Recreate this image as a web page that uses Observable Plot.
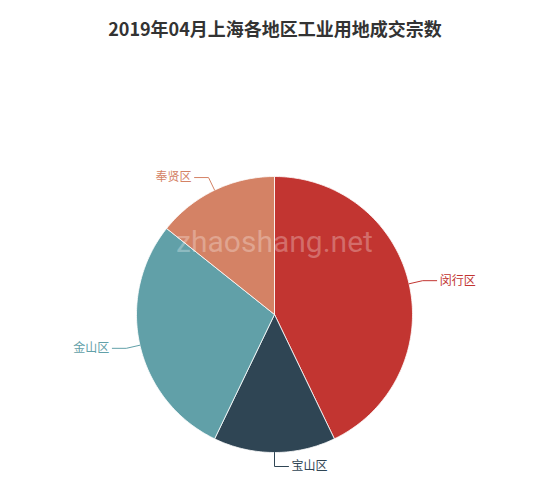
<!DOCTYPE html>
<html><head><meta charset="utf-8">
<script src="https://cdn.jsdelivr.net/npm/d3@7"></script>
<script src="https://cdn.jsdelivr.net/npm/@observablehq/plot@0.6"></script>
<style>
body{margin:0;background:#fff;font-family:"Noto Sans CJK SC","Noto Sans",sans-serif;}
#title{width:550px;height:56px;line-height:56px;text-align:center;font-size:18px;font-weight:bold;color:#333;}
#chart svg{display:block;}
</style></head><body>
<div id="title">2019年04月上海各地区工业用地成交宗数</div>
<div id="chart"></div>
<script>
const districts = ["闵行区","宝山区","金山区","奉贤区"];
const counts = [3, 1, 2, 1];
const colors = ["#c23531","#2f4554","#61a0a8","#d48265"];
const watermark = "zhaoshang.net";

const W = 550, H = 434, cx = 274, cy = 258, R = 138, L1 = 14, L2 = 14;
const arcs = d3.pie().sort(null).value(d => d.value)(districts.map((name, i) => ({name, value: counts[i]})));
const pt = (a, r) => ({x: r * Math.sin(a), y: -r * Math.cos(a)});

const slices = [];
const leaders = [];
const labels = [];
for (const p of arcs) {
  const name = p.data.name;
  const n = Math.max(2, Math.ceil((p.endAngle - p.startAngle) / (Math.PI / 180)));
  slices.push({name, x: 0, y: 0});
  for (let k = 0; k <= n; k++) {
    const a = p.startAngle + (p.endAngle - p.startAngle) * k / n;
    slices.push({name, ...pt(a, R)});
  }
  slices.push({name, x: 0, y: 0});
  const mid = (p.startAngle + p.endAngle) / 2;
  const dir = Math.sin(mid) < -1e-6 ? -1 : 1;
  const p1 = pt(mid, R), p2 = pt(mid, R + L1);
  const p3 = {x: p2.x + dir * L2, y: p2.y};
  leaders.push({name, ...p1}, {name, ...p2}, {name, ...p3});
  labels.push({name, x: p3.x + dir * 3, y: p3.y, dir});
}

const chart = Plot.plot({
  width: W, height: H,
  margin: 0,
  style: {fontFamily: '"Noto Sans CJK SC", sans-serif', background: "white"},
  x: {domain: [-cx, W - cx], range: [0, W], axis: null},
  y: {domain: [-cy, H - cy], range: [0, H], axis: null},
  color: {domain: districts, range: colors},
  marks: [
    Plot.line(slices, {x: "x", y: "y", z: "name", fill: "name", stroke: "white", strokeWidth: 0.8, curve: "linear"}),
    Plot.line(leaders, {x: "x", y: "y", z: "name", stroke: "name", strokeWidth: 1, curve: "linear"}),
    Plot.text(labels.filter(d => d.dir > 0), {x: "x", y: "y", text: "name", fill: "name", textAnchor: "start", fontSize: 12}),
    Plot.text(labels.filter(d => d.dir < 0), {x: "x", y: "y", text: "name", fill: "name", textAnchor: "end", fontSize: 12}),
    Plot.text([watermark], {frameAnchor: "middle", dx: -1, dy: -31, text: d => d, fill: "white", fillOpacity: 0.28, fontSize: 30, fontFamily: "Roboto, sans-serif"})
  ]
});
document.getElementById("chart").append(chart);
</script>
</body></html>
